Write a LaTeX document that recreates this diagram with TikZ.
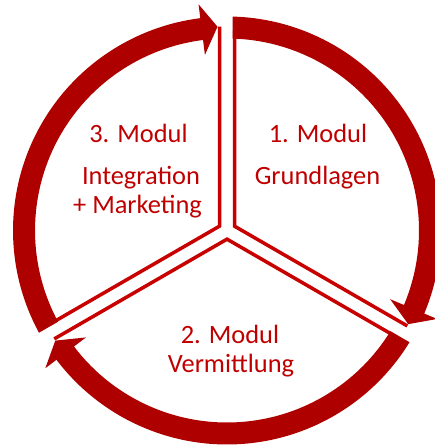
\documentclass[tikz,border=0pt]{standalone}
\usepackage{fontspec}
\setmainfont{Carlito}
\usetikzlibrary{calc}
\definecolor{bandred}{RGB}{175,0,0}
\definecolor{linered}{RGB}{200,0,0}
\definecolor{textred}{RGB}{192,0,0}
\newcommand\drawsector[3]{%
  % #1 start gap angle, #2 end gap angle (clockwise), #3 bisector
  \pgfmathsetmacro\sOut{#1-asin(5.5/214)}%
  \pgfmathsetmacro\sIn{#1-asin(5.5/192)}%
  \pgfmathsetmacro\sLine{#1-asin(7.5/200)}%
  \pgfmathsetmacro\eLine{#2+asin(7.5/204)}%
  \pgfmathsetmacro\tip{#2+asin(9.5/204)}%
  \pgfmathsetmacro\back{\tip+4.5}%
  \pgfmathsetmacro\vtx{7.5/sin(60)}%
  \begin{scope}[shift={(C)}]
    \draw[edge] (\sLine:200) -- (#3:\vtx) -- (\eLine:204);
    \fill[bandred] (\sOut:214) arc[start angle=\sOut, end angle=\back, radius=214]
      -- (\back:228) -- (\tip:204) -- (\back:177) -- (\back:192)
      arc[start angle=\back, end angle=\sIn, radius=192] -- cycle;
  \end{scope}}
\begin{document}
\begin{tikzpicture}[x=1pt,y=1pt,
  lbl/.style={text=textred, font=\fontsize{26.4}{30}\selectfont, anchor=base, inner sep=0pt},
  edge/.style={draw=linered, line width=3.5pt, line join=miter, line cap=butt}]
\useasboundingbox (0,0) rectangle (435,446);
\coordinate (C) at (227,215.5);
\drawsector{90}{-30}{30}
\drawsector{-30}{-150}{270}
\drawsector{210}{90}{150}
\node[lbl] (m1) at (318,303) {1. Modul};
\node[lbl] (g1) at (317.5,261) {Grundlagen};
\node[lbl] (m3) at (138.5,303) {3. Modul};
\node[lbl] (i3) at (141,261) {Integration};
\node[lbl] (k3) at (137.5,232) {+ Marketing};
\node[lbl] (m2) at (230,102) {2. Modul};
\node[lbl] (v2) at (231,73) {Vermittlung};
\end{tikzpicture}
\end{document}
